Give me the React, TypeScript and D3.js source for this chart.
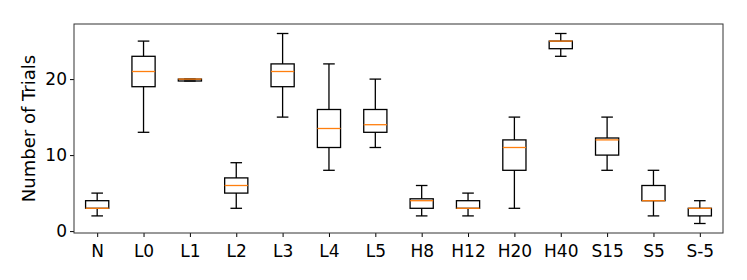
import React, { useRef, useEffect } from 'react';
import * as d3 from 'd3';

// Box stats: [whiskerLow, q1, median, q3, whiskerHigh]
const categories = ['N', 'L0', 'L1', 'L2', 'L3', 'L4', 'L5', 'H8', 'H12', 'H20', 'H40', 'S15', 'S5', 'S-5'];
const whiskerLow = [2, 13, 19.75, 3, 15, 8, 11, 2, 2, 3, 23, 8, 2, 1];
const q1 = [3, 19, 19.75, 5, 19, 11, 13, 3, 3, 8, 24, 10, 4, 2];
const medians = [3, 21, 20, 6, 21, 13.5, 14, 4, 3, 11, 25, 12, 4, 3];
const q3 = [4, 23, 20, 7, 22, 16, 16, 4.25, 4, 12, 25, 12.25, 6, 3];
const whiskerHigh = [5, 25, 20, 9, 26, 22, 20, 6, 5, 15, 26, 15, 8, 4];
const yTicks = [0, 10, 20];

const W = 747;
const H = 280;
const margin = { top: 24, right: 24, bottom: 47, left: 74 };

const App: React.FC = () => {
  const svgRef = useRef<SVGSVGElement | null>(null);

  useEffect(() => {
    if (!svgRef.current) return;
    const svg = d3.select(svgRef.current);
    svg.selectAll('*').remove();

    const iw = W - margin.left - margin.right;
    const ih = H - margin.top - margin.bottom;
    const font = 'DejaVu Sans, sans-serif';

    // positions 1..n like matplotlib, xlim 0.5..n+0.5
    const x = d3.scaleLinear().domain([0.5, categories.length + 0.5]).range([0, iw]);
    const y = d3.scaleLinear().domain([-0.25, 27.25]).range([ih, 0]);
    const bw = x(1.25) - x(1);

    const g = svg.append('g').attr('transform', `translate(${margin.left},${margin.top})`);

    const boxes = g.selectAll('.box')
      .data(categories)
      .enter()
      .append('g')
      .attr('class', 'box');

    const lineStyle = (sel: any) => sel.attr('stroke', '#000').attr('stroke-width', 1.3).attr('fill', 'none');

    // whiskers
    boxes.append('line')
      .attr('x1', (_: string, i: number) => x(i + 1)).attr('x2', (_: string, i: number) => x(i + 1))
      .attr('y1', (_: string, i: number) => y(q3[i])).attr('y2', (_: string, i: number) => y(whiskerHigh[i]))
      .call(lineStyle);
    boxes.append('line')
      .attr('x1', (_: string, i: number) => x(i + 1)).attr('x2', (_: string, i: number) => x(i + 1))
      .attr('y1', (_: string, i: number) => y(q1[i])).attr('y2', (_: string, i: number) => y(whiskerLow[i]))
      .call(lineStyle);
    // caps
    boxes.append('line')
      .attr('x1', (_: string, i: number) => x(i + 1) - bw / 2).attr('x2', (_: string, i: number) => x(i + 1) + bw / 2)
      .attr('y1', (_: string, i: number) => y(whiskerHigh[i])).attr('y2', (_: string, i: number) => y(whiskerHigh[i]))
      .call(lineStyle);
    boxes.append('line')
      .attr('x1', (_: string, i: number) => x(i + 1) - bw / 2).attr('x2', (_: string, i: number) => x(i + 1) + bw / 2)
      .attr('y1', (_: string, i: number) => y(whiskerLow[i])).attr('y2', (_: string, i: number) => y(whiskerLow[i]))
      .call(lineStyle);
    // box
    boxes.append('rect')
      .attr('x', (_: string, i: number) => x(i + 1) - bw)
      .attr('width', bw * 2)
      .attr('y', (_: string, i: number) => y(q3[i]))
      .attr('height', (_: string, i: number) => y(q1[i]) - y(q3[i]))
      .call(lineStyle);
    // median
    boxes.append('line')
      .attr('x1', (_: string, i: number) => x(i + 1) - bw).attr('x2', (_: string, i: number) => x(i + 1) + bw)
      .attr('y1', (_: string, i: number) => y(medians[i])).attr('y2', (_: string, i: number) => y(medians[i]))
      .attr('stroke', '#ff7f0e').attr('stroke-width', 1.3);

    // axes
    const xAxis = g.append('g')
      .attr('transform', `translate(0,${ih})`)
      .call(d3.axisBottom(x).tickValues(d3.range(1, categories.length + 1)).tickFormat((d: any) => categories[d - 1]).tickSize(4).tickPadding(8));
    const yAxis = g.append('g')
      .call(d3.axisLeft(y).tickValues(yTicks).tickSize(4).tickPadding(3));

    [xAxis, yAxis].forEach((a) => {
      a.select('.domain').remove();
      a.selectAll('line').attr('stroke', '#000').attr('stroke-width', 1);
      a.selectAll('text').attr('font-family', font).attr('font-size', 17).attr('fill', '#000');
    });

    // frame
    g.append('rect')
      .attr('x', 0).attr('y', 0).attr('width', iw).attr('height', ih)
      .attr('fill', 'none').attr('stroke', '#333').attr('stroke-width', 1);

    svg.append('text')
      .attr('transform', `translate(28,${margin.top + ih / 2}) rotate(-90)`)
      .attr('text-anchor', 'middle')
      .attr('dominant-baseline', 'central')
      .attr('font-family', font)
      .attr('font-size', 18)
      .text('Number of Trials');
  }, []);

  return (
    <svg ref={svgRef} width={W} height={H} style={{ position: 'absolute', left: 0, top: 0, background: '#fff' }} />
  );
};

export default App;
